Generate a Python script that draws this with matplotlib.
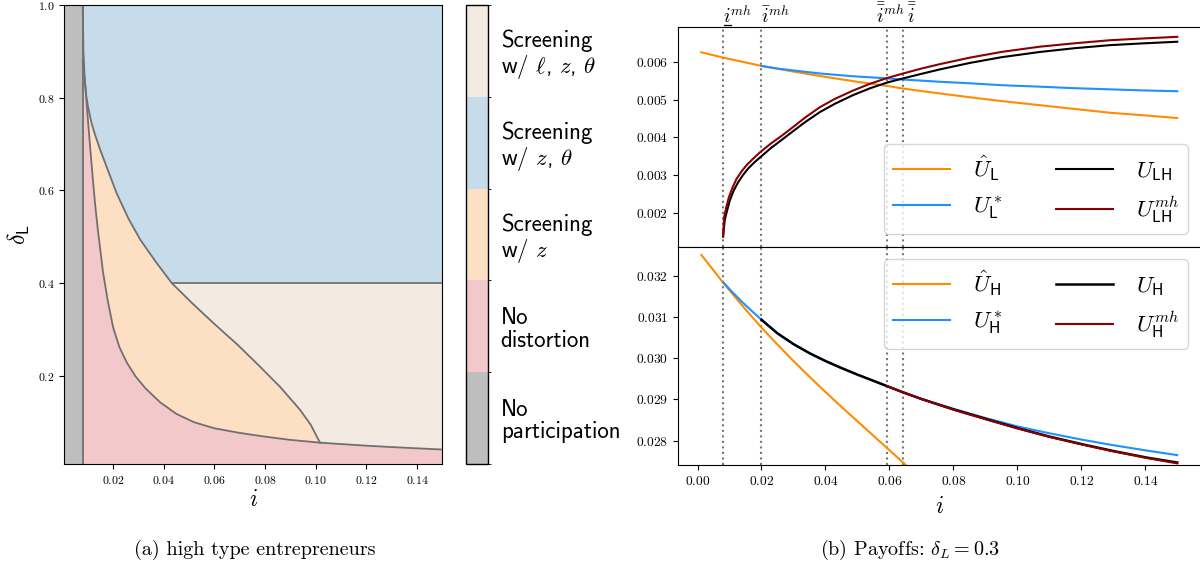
import numpy as np
import matplotlib
matplotlib.use("Agg")
from matplotlib import pyplot as plt
from matplotlib.colors import ListedColormap, BoundaryNorm
from matplotlib.cm import ScalarMappable

plt.rcParams["font.family"] = "serif"
plt.rcParams["font.serif"] = ["cmr10"]
plt.rcParams["mathtext.fontset"] = "cm"
plt.rcParams["axes.formatter.use_mathtext"] = True
plt.rcParams["axes.unicode_minus"] = False

# ---- regime map for high type entrepreneurs ----
participation_cutoff = 0.008
theta_threshold = 0.4
# boundary between "no distortion" and "screening w/ z"
lower_i = [0.0080, 0.0088, 0.0094, 0.0101, 0.0110, 0.0120, 0.0130, 0.0141, 0.0150,
           0.0160, 0.0178, 0.0200, 0.0225, 0.0255, 0.0290, 0.0330, 0.0386, 0.0450,
           0.0520, 0.0600, 0.0700, 0.0800, 0.0900, 0.1017, 0.1100, 0.1200, 0.1300,
           0.1400, 0.1500]
lower_d = [0.880, 0.840, 0.800, 0.750, 0.690, 0.625, 0.565, 0.510, 0.470,
           0.425, 0.365, 0.305, 0.262, 0.228, 0.198, 0.172, 0.143, 0.118,
           0.100, 0.087, 0.077, 0.069, 0.062, 0.056, 0.053, 0.0495, 0.0465,
           0.0438, 0.0412]
# upper edge of the "screening w/ z" region
upper_i = [0.0080, 0.0083, 0.0088, 0.0095, 0.0103, 0.0115, 0.0130, 0.0149, 0.0175,
           0.0214, 0.0260, 0.0307, 0.0370, 0.0432, 0.0510, 0.0596, 0.0690, 0.0780,
           0.0860, 0.0938, 0.0980, 0.1017]
upper_d = [1.000, 0.900, 0.840, 0.800, 0.775, 0.745, 0.718, 0.688, 0.650,
           0.594, 0.540, 0.494, 0.445, 0.400, 0.358, 0.314, 0.268, 0.220,
           0.176, 0.127, 0.095, 0.056]

regime_colors = ["#bebebe", "#f2c8cb", "#fddfc4", "#c6dcea", "#f3ebe1"]
regime_labels = ["No\nparticipation", "No\ndistortion", "Screening\nw/ $z$",
                 "Screening\nw/ $z$, $\\theta$", "Screening\nw/ $\\ell$, $z$, $\\theta$"]

# ---- payoffs at delta_L = 0.3 ----
thresholds = [0.008, 0.020, 0.0593, 0.0643]
threshold_labels = [r"$i^{\!mh}$", r"$\bar{i}^{mh}$", r"$\bar{\bar{i}}^{mh}$", r"$\bar{\bar{i}}$"]

uhat_L_i = [0.0012, 0.008, 0.014, 0.020, 0.030, 0.040, 0.050, 0.0593, 0.0643, 0.0759,
            0.0852, 0.095, 0.1071, 0.118, 0.129, 0.140, 0.150]
uhat_L = [0.00625, 0.00611, 0.00600, 0.00589, 0.00574, 0.00560, 0.00547, 0.00536, 0.00529, 0.00516,
          0.00506, 0.00496, 0.00485, 0.00475, 0.00465, 0.00458, 0.00451]
ustar_L_i = [0.020, 0.025, 0.030, 0.0383, 0.048, 0.0593, 0.0643, 0.0759, 0.0852, 0.095,
             0.1071, 0.118, 0.129, 0.140, 0.150]
ustar_L = [0.00589, 0.00582, 0.00577, 0.00569, 0.00562, 0.00556, 0.00553, 0.00547, 0.00543, 0.00538,
           0.00534, 0.00530, 0.00527, 0.00524, 0.00522]
u_LH_i = [0.0080, 0.0085, 0.0090, 0.0101, 0.0113, 0.0127, 0.0142, 0.0158, 0.0178, 0.0200,
          0.0230, 0.0263, 0.0300, 0.0336, 0.0383, 0.0430, 0.0487, 0.0540, 0.0593, 0.0643,
          0.0700, 0.0759, 0.0852, 0.0950, 0.1071, 0.1180, 0.1290, 0.1400, 0.1500]
u_LH = [0.00137, 0.00180, 0.00198, 0.00233, 0.00259, 0.00281, 0.00300, 0.00317, 0.00334, 0.00350,
        0.00372, 0.00393, 0.00417, 0.00440, 0.00467, 0.00489, 0.00512, 0.00530, 0.00545, 0.00556,
        0.00568, 0.00580, 0.00597, 0.00612, 0.00626, 0.00636, 0.00644, 0.00649, 0.00653]
u_LHmh_i = [0.0080, 0.0083, 0.0090, 0.0098, 0.0110, 0.0122, 0.0138, 0.0153, 0.0172, 0.0195,
            0.0230, 0.0263, 0.0300, 0.0336, 0.0383, 0.0430, 0.0487, 0.0540, 0.0593, 0.0643,
            0.0700, 0.0759, 0.0852, 0.0950, 0.1071, 0.1180, 0.1290, 0.1400, 0.1500]
u_LHmh = [0.00139, 0.00188, 0.00215, 0.00241, 0.00268, 0.00290, 0.00310, 0.00326, 0.00342, 0.00360,
          0.00384, 0.00404, 0.00428, 0.00452, 0.00480, 0.00502, 0.00524, 0.00542, 0.00557, 0.00569,
          0.00582, 0.00594, 0.00611, 0.00626, 0.00640, 0.00649, 0.00657, 0.00662, 0.00666]

uhat_H_i = [0.0012, 0.008, 0.014, 0.020, 0.025, 0.030, 0.035, 0.040, 0.045, 0.050,
            0.055, 0.060, 0.0654]
uhat_H = [0.03250, 0.03183, 0.03127, 0.03074, 0.03033, 0.02993, 0.02955, 0.02918, 0.02882, 0.02847,
          0.02812, 0.02777, 0.02739]
ustar_H_i = [0.008, 0.011, 0.0138, 0.017, 0.020, 0.025, 0.030, 0.035, 0.040, 0.045,
             0.050, 0.055, 0.0593, 0.0643, 0.070, 0.080, 0.090, 0.1003, 0.110, 0.1205,
             0.130, 0.1405, 0.150]
ustar_H = [0.03184, 0.03159, 0.03137, 0.03114, 0.03093, 0.03060, 0.03034, 0.03012, 0.02993, 0.02976,
           0.02960, 0.02945, 0.02932, 0.02917, 0.02901, 0.02877, 0.02855, 0.02834, 0.02818, 0.02802,
           0.02789, 0.02776, 0.02765]
u_H_i = [0.020, 0.025, 0.030, 0.035, 0.040, 0.045, 0.050, 0.055, 0.0593, 0.0643,
         0.070, 0.0759, 0.080, 0.090, 0.1003, 0.110, 0.1205, 0.130, 0.1405, 0.150]
u_H = [0.03093, 0.03060, 0.03034, 0.03012, 0.02993, 0.02976, 0.02960, 0.02945, 0.02932, 0.02917,
       0.02901, 0.02886, 0.02876, 0.02853, 0.02830, 0.02810, 0.02791, 0.02775, 0.02759, 0.02747]
u_Hmh_i = [0.0593, 0.0643, 0.070, 0.0759, 0.080, 0.090, 0.1003, 0.110, 0.1205, 0.130, 0.1405, 0.150]
u_Hmh = [0.02932, 0.02917, 0.02901, 0.02886, 0.02875, 0.02852, 0.02829, 0.02809, 0.02790, 0.02774,
         0.02758, 0.02745]

fig = plt.figure(figsize=(12, 5.71), dpi=100)

# left: regime map
ax = fig.add_axes([0.0536, 0.1874, 0.315, 0.804])
x0, x1, y0, y1 = 0.00075, 0.15, 0.01, 1.0
edge = "#707070"
ax.axvspan(x0, participation_cutoff, color=regime_colors[0], lw=0)
ax.fill([participation_cutoff, x1, x1, participation_cutoff], [y0, y0, y1, y1],
        color=regime_colors[4], lw=0)
k = upper_i.index(0.0432)
ax.fill(upper_i[:k + 1] + [x1, x1, participation_cutoff],
        upper_d[:k + 1] + [theta_threshold, y1, y1], color=regime_colors[3], lw=0)
j = lower_i.index(0.1017)
ax.fill(upper_i + lower_i[j::-1], upper_d + lower_d[j::-1], color=regime_colors[2], lw=0)
ax.fill(lower_i + [x1, participation_cutoff], lower_d + [y0, y0], color=regime_colors[1], lw=0)
ax.plot(lower_i, lower_d, color=edge, lw=1.3)
ax.plot(upper_i, upper_d, color=edge, lw=1.3)
ax.plot([upper_i[k], x1], [theta_threshold, theta_threshold], color=edge, lw=1.3)
ax.axvline(participation_cutoff, color=edge, lw=1.3)
ax.set_xlim(x0, x1)
ax.set_ylim(y0, y1)
ax.set_xticks([0.02, 0.04, 0.06, 0.08, 0.10, 0.12, 0.14])
ax.tick_params(labelsize=8.5)
ax.set_xlabel(r"$i$", fontsize=17, labelpad=2)
ax.set_ylabel(r"$\delta_{\mathsf{L}}$", fontsize=17)

cax = fig.add_axes([0.388, 0.1874, 0.0188, 0.8035])
cmap = ListedColormap(regime_colors)
norm = BoundaryNorm(np.arange(len(regime_colors) + 1), cmap.N)
cb = fig.colorbar(ScalarMappable(norm=norm, cmap=cmap), cax=cax,
                  ticks=np.arange(len(regime_colors)) + 0.5)
cb.ax.set_yticklabels(regime_labels, fontfamily="cmss10", fontsize=16.5, linespacing=1.05)
cb.ax.tick_params(length=0, pad=9)
cb.outline.set_linewidth(1.0)

# right: payoffs
ax_top = fig.add_axes([0.565, 0.568, 0.4355, 0.385])
ax_bot = fig.add_axes([0.565, 0.1856, 0.4355, 0.3824], sharex=ax_top)
orange, blue, dark = "darkorange", "dodgerblue", "darkred"

ax_top.plot(uhat_L_i, uhat_L, color=orange, lw=1.5, label=r"$\hat{U}_{\mathsf{L}}$")
ax_top.plot(ustar_L_i, ustar_L, color=blue, lw=1.5, label=r"$U^*_{\mathsf{L}}$")
ax_top.plot(u_LH_i, u_LH, color="black", lw=1.5, label=r"$U_{\mathsf{LH}}$")
ax_top.plot(u_LHmh_i, u_LHmh, color=dark, lw=1.5, label=r"$U^{mh}_{\mathsf{LH}}$")

ax_bot.plot(uhat_H_i, uhat_H, color=orange, lw=1.5, label=r"$\hat{U}_{\mathsf{H}}$")
ax_bot.plot(ustar_H_i, ustar_H, color=blue, lw=1.5, label=r"$U^*_{\mathsf{H}}$")
ax_bot.plot(u_H_i, u_H, color="black", lw=1.8, label=r"$U_{\mathsf{H}}$")
ax_bot.plot(u_Hmh_i, u_Hmh, color=dark, lw=1.5, label=r"$U^{mh}_{\mathsf{H}}$")
ax_bot.set_xlim(-0.0061, 0.1573)
ax_bot.set_ylim(0.02741, 0.0327)

for a in (ax_top, ax_bot):
    for t in thresholds:
        a.axvline(t, color="#777777", ls=":", lw=1.5, zorder=0)
    a.tick_params(labelsize=9.7)
    a.legend(loc="lower right" if a is ax_top else "upper right", ncol=2, fontsize=16.5,
             handlelength=2.5, handletextpad=1.0, columnspacing=2.3, labelspacing=0.5,
             borderaxespad=0.55)
ax_top.tick_params(bottom=False, labelbottom=False)
ax_top.set_yticks([0.002, 0.003, 0.004, 0.005, 0.006])
ax_bot.set_yticks([0.028, 0.029, 0.030, 0.031, 0.032])
ax_bot.set_xlabel(r"$i$", fontsize=17, labelpad=6)

label_shift = [(0, "left"), (0, "left"), (3, "center"), (9, "center")]
for t, lab, (dx, ha) in zip(thresholds, threshold_labels, label_shift):
    ax_top.annotate(lab, xy=(t, 1), xycoords=("data", "axes fraction"), xytext=(dx, 4),
                    textcoords="offset pixels", ha=ha, va="baseline", fontsize=14)
# underline for the lower bound label
ax_top.plot([thresholds[0] + 0.0002, thresholds[0] + 0.0025], [1.009, 1.009],
            transform=ax_top.get_xaxis_transform(), color="black", lw=0.9, clip_on=False)

fig.text(0.2125, 0.028, "(a) high type entrepreneurs", ha="center", fontsize=14.5)
fig.text(0.758, 0.028, r"(b) Payoffs: $\delta_L = 0.3$", ha="center", fontsize=14.5)

fig.savefig("out.png", dpi=100)
